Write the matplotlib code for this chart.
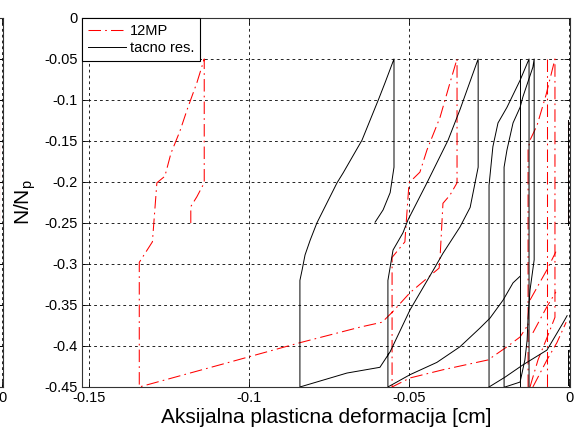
import matplotlib
matplotlib.use('Agg')
import matplotlib.pyplot as plt

plt.rcParams['font.family'] = ['Liberation Sans', 'DejaVu Sans']
plt.rcParams['axes.unicode_minus'] = False
plt.rcParams['lines.scale_dashes'] = False

# ---- data ----
# 12MP, red dash-dot, several pieces
red_a_x = [-0.1182, -0.1182, -0.1163, -0.1140, -0.1140, -0.1163, -0.1191, -0.1216, -0.1244,
           -0.1263, -0.1288, -0.1302, -0.1343, -0.1343, -0.1091, -0.0841, -0.0653, -0.0584,
           -0.0553, -0.0497, -0.0406, -0.0403, -0.0394, -0.0372, -0.0350, -0.0350, -0.0372,
           -0.0403, -0.0444, -0.0466, -0.0500, -0.0513, -0.0553, -0.0553, -0.0497, -0.0394,
           -0.0253, -0.0194, -0.0153, -0.0128]
red_a_y = [-0.250, -0.230, -0.218, -0.201, -0.050, -0.079, -0.109, -0.138, -0.165,
           -0.193, -0.201, -0.273, -0.298, -0.450, -0.423, -0.396, -0.377, -0.371,
           -0.359, -0.335, -0.305, -0.292, -0.226, -0.216, -0.201, -0.050, -0.079,
           -0.121, -0.161, -0.188, -0.201, -0.273, -0.292, -0.450, -0.439, -0.429,
           -0.417, -0.401, -0.389, -0.374]
red_c_x = [-0.0128, -0.0128, -0.0122, -0.0100, -0.0072, -0.0044, -0.0044, -0.0069, -0.0097, -0.0122]
red_c_y = [-0.450, -0.161, -0.149, -0.131, -0.094, -0.050, -0.365, -0.390, -0.417, -0.450]
red_d_x = [-0.0069, -0.0069]
red_d_y = [-0.050, -0.450]
red_e_x = [-0.0122, -0.0069, -0.0041]
red_e_y = [-0.344, -0.307, -0.285]
red_f_x = [-0.0113, -0.0069, -0.0041]
red_f_y = [-0.384, -0.352, -0.334]
red_g_x = [-0.0113, -0.0069, -0.0038, -0.0009]
red_g_y = [-0.450, -0.417, -0.396, -0.371]
red_h_x = [-0.0004, -0.0004]
red_h_y = [-0.124, -0.252]

# tacno res., black solid
blk_a_x = [-0.0606, -0.0581, -0.0559, -0.0547, -0.0547, -0.0575, -0.0594, -0.0647, -0.0706,
           -0.0725, -0.0788, -0.0809, -0.0825, -0.0834, -0.0841, -0.0841, -0.0694, -0.0591,
           -0.0559, -0.0497, -0.0419, -0.0394, -0.0341, -0.0309, -0.0284, -0.0284, -0.0341,
           -0.0378, -0.0444, -0.0503, -0.0519, -0.0550, -0.0566, -0.0566, -0.0497, -0.0413,
           -0.0341, -0.0278, -0.0247, -0.0206, -0.0175, -0.0153]
blk_a_y = [-0.249, -0.234, -0.213, -0.182, -0.050, -0.079, -0.098, -0.149, -0.189,
           -0.201, -0.250, -0.271, -0.289, -0.307, -0.320, -0.450, -0.433, -0.426,
           -0.407, -0.356, -0.304, -0.287, -0.255, -0.231, -0.182, -0.050, -0.112,
           -0.149, -0.201, -0.246, -0.262, -0.283, -0.320, -0.450, -0.435, -0.420,
           -0.401, -0.378, -0.366, -0.344, -0.323, -0.315]
blk_b_x = [-0.0250, -0.0250, -0.0238, -0.0222, -0.0194, -0.0153, -0.0125, -0.0125]
blk_b_y = [-0.450, -0.204, -0.157, -0.128, -0.109, -0.076, -0.050, -0.450]
blk_c_x = [-0.0203, -0.0203, -0.0194, -0.0175, -0.0153, -0.0144, -0.0113, -0.0109, -0.0109,
           -0.0122, -0.0128, -0.0131, -0.0138, -0.0153, -0.0200]
blk_c_y = [-0.450, -0.182, -0.161, -0.128, -0.109, -0.096, -0.060, -0.050, -0.295,
           -0.332, -0.365, -0.393, -0.417, -0.444, -0.450]
blk_d_x = [-0.0153, -0.0153]
blk_d_y = [-0.050, -0.450]
blk_e_x = [-0.0250, -0.0200, -0.0144, -0.0069, -0.0019, -0.0006]
blk_e_y = [-0.450, -0.438, -0.423, -0.405, -0.372, -0.363]
blk_f_x = [-0.0002, -0.0002]
blk_f_y = [-0.124, -0.252]
blk_g_x = [-0.0003, -0.0003]
blk_g_y = [-0.405, -0.447]

# neighbouring (cut-off) panel on the left
left_red_x = [-0.0008, -0.0008]
left_red_y = [-0.124, -0.246]
left_blk_x = [-0.0008, -0.0008, -0.0015]
left_blk_y = [-0.320, -0.378, -0.385]

xticks = [-0.15, -0.1, -0.05, 0]
xticklabels = ['-0.15', '-0.1', '-0.05', '0']
yticks = [0, -0.05, -0.1, -0.15, -0.2, -0.25, -0.3, -0.35, -0.4, -0.45]
yticklabels = ['0', '-0.05', '-0.1', '-0.15', '-0.2', '-0.25', '-0.3', '-0.35', '-0.4', '-0.45']

red_ls = (0, (9, 3, 1.2, 3))
grid_ls = (0, (2, 2.2))

fig = plt.figure(figsize=(5.75, 4.32), dpi=100)


def style_axes(ax):
    ax.set_xlim(-0.1522, 0.0003)
    ax.set_ylim(-0.45, 0)
    ax.set_xticks(xticks)
    ax.set_yticks(yticks)
    ax.tick_params(direction='in', top=True, right=True, length=4, width=0.6,
                   labelsize=10.5, pad=3, colors='black')
    for s in ax.spines.values():
        s.set_linewidth(0.8)
        s.set_color('#333333')
    ax.grid(True, color='black', linestyle=grid_ls, linewidth=0.6)
    ax.set_axisbelow(True)


# left neighbour panel, only its right edge is visible
ax0 = fig.add_axes([-0.8435, 0.1042, 0.8487, 0.8542])
style_axes(ax0)
ax0.set_xticklabels(xticklabels)
ax0.set_yticklabels([])
ax0.plot(left_red_x, left_red_y, color='red', linestyle=red_ls, linewidth=0.8)
ax0.plot(left_blk_x, left_blk_y, color='black', linewidth=0.7)

ax = fig.add_axes([0.1426, 0.1042, 0.8487, 0.8542])
style_axes(ax)
ax.set_xticklabels(xticklabels)
ax.set_yticklabels(yticklabels)

red_parts = [(red_a_x, red_a_y), (red_c_x, red_c_y), (red_d_x, red_d_y), (red_e_x, red_e_y),
             (red_f_x, red_f_y), (red_g_x, red_g_y), (red_h_x, red_h_y)]
blk_parts = [(blk_a_x, blk_a_y), (blk_b_x, blk_b_y), (blk_c_x, blk_c_y), (blk_d_x, blk_d_y),
             (blk_e_x, blk_e_y), (blk_f_x, blk_f_y), (blk_g_x, blk_g_y)]

for i, (xs, ys) in enumerate(red_parts):
    ax.plot(xs, ys, color='red', linestyle=red_ls, linewidth=0.75,
            label='12MP' if i == 0 else None)
for i, (xs, ys) in enumerate(blk_parts):
    ax.plot(xs, ys, color='black', linewidth=0.7,
            label='tacno res.' if i == 0 else None)

ax.set_xlabel('Aksijalna plasticna deformacija [cm]', fontsize=15)
ax.xaxis.set_label_coords(0.5, -0.058)
ax.set_ylabel('N/N$_\\mathregular{p}$', fontsize=15)
ax.yaxis.set_label_coords(-0.09, 0.5)

leg = ax.legend(loc='upper left', bbox_to_anchor=(0, 1), borderaxespad=0,
                fontsize=10.5, fancybox=False, framealpha=1, edgecolor='black',
                handlelength=2.6, handletextpad=0.3, labelspacing=0.2, borderpad=0.4)
leg.get_frame().set_linewidth(0.8)

fig.savefig('out.png', dpi=100)
